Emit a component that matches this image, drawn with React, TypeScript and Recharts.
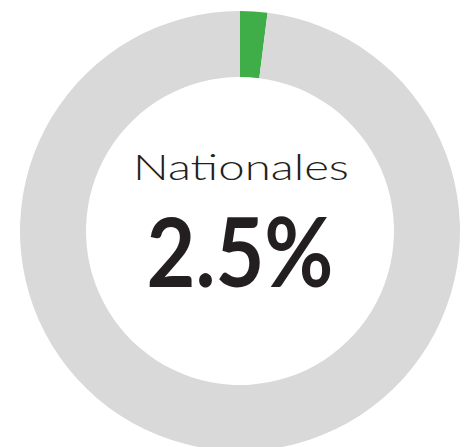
import React from "react";
import { PieChart, Pie, Cell, Label } from "recharts";

const categories = ["Nationales", "Autres"];
const values = [2.0, 98.0];
const colors = ["#3fae49", "#d9d9d9"];
const titleText = "Nationales";
const valueText = "2.5%";

const data = categories.map((name, i) => ({ name, value: values[i] }));

const CenterLabel = (props: any) => {
  const vb = props.viewBox || {};
  const cx = vb.cx ?? 240;
  const cy = vb.cy ?? 231;
  return (
    <g>
      <text
        x={cx + 1}
        y={cy - 51}
        textAnchor="middle"
        fontFamily="Lato, 'Noto Sans', sans-serif"
        fontWeight={300}
        fontSize={35}
        fill="#231f20"
        textLength={216}
        lengthAdjust="spacingAndGlyphs"
      >
        {titleText}
      </text>
      <text
        x={cx}
        y={cy + 56}
        textAnchor="middle"
        fontFamily="Lato, 'Noto Sans', sans-serif"
        fontWeight={700}
        fontSize={96}
        fill="#231f20"
        textLength={187}
        lengthAdjust="spacingAndGlyphs"
      >
        {valueText}
      </text>
    </g>
  );
};

export default function App() {
  return (
    <div style={{ position: "absolute", left: 0, top: 0, width: 466, height: 447, background: "#fff" }}>
      <PieChart width={466} height={447} margin={{ top: 0, right: 0, bottom: 0, left: 0 }}>
        <Pie
          data={data}
          dataKey="value"
          nameKey="name"
          cx={240}
          cy={231}
          innerRadius={154}
          outerRadius={220}
          startAngle={90}
          endAngle={-270}
          stroke="none"
          isAnimationActive={false}
        >
          {data.map((d, i) => (
            <Cell key={d.name} fill={colors[i]} />
          ))}
          <Label position="center" content={<CenterLabel />} />
        </Pie>
      </PieChart>
    </div>
  );
}
